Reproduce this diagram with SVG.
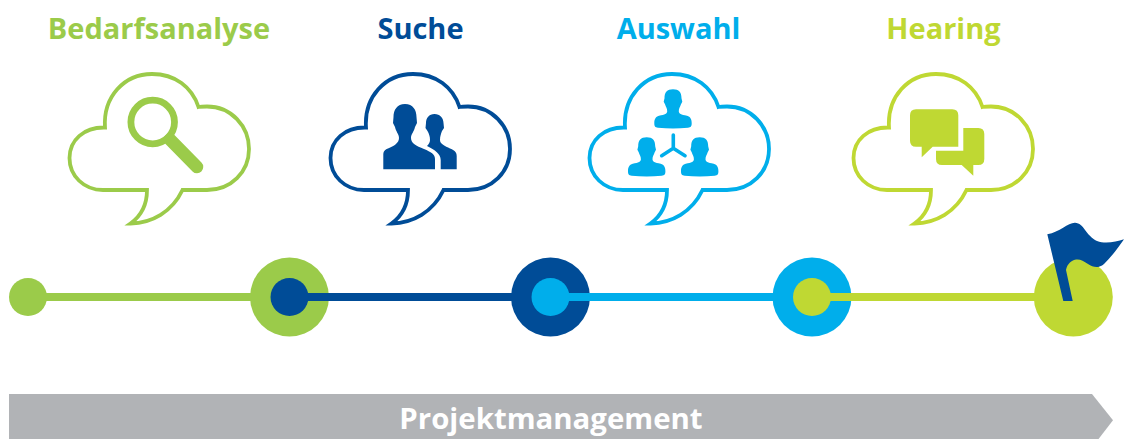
<svg xmlns="http://www.w3.org/2000/svg" width="1124" height="439" viewBox="0 0 1124 439">
<style>
.h{font-family:"Open Sans","Noto Sans","Liberation Sans",sans-serif;font-weight:700;font-size:29px;text-anchor:middle}
.c{fill:#fff;stroke-width:3.8;stroke-miterlimit:10}
.l{stroke-width:8;fill:none}
.g{fill:#9BCB4A}.n{fill:#004C97}.b{fill:#00AEEB}.y{fill:#BFD833}
</style>
<defs>
<path id="cloud" d="M130.500 223.500C141 216 147 205 147 190H103C84 190 69.500 176 69.500 158C69.500 140 84 127 105 127.500C103 97 124 74 152 74C175 74 192 87 198.500 107C201 106.500 204 106.500 207 106.500C231 106.500 249 126 249 149C249 172 231 190 207 190H182.500C172 212 152 223 130.500 223.500Z"/>
<path id="p" d="M0 0C-6 0-8.500 3-8.500 9L-9.300 12.500L-8 15C-7 18-5.800 19-5.800 22C-5.800 24.500-8 25.500-14 26.500C-17.500 27.500-18.700 30-18.700 34C-18.700 37-18 38-15 38.500C-5 39.500 5 39.500 15 38.500C18 38 18.700 37 18.700 34C18.700 30 17.500 27.500 14 26.500C8 25.500 5.800 24.500 5.800 22C5.800 19 7 18 8 15L9.300 12.500L8.500 9C8.500 3 6 0 0 0Z"/>
</defs>
<g id="stations">
<circle class="g" cx="28" cy="297" r="19"/>
<circle class="g" cx="289.500" cy="297" r="39.500"/>
<circle class="n" cx="550.500" cy="297" r="39.500"/>
<circle class="b" cx="812" cy="297" r="39.500"/>
<circle class="y" cx="1073.300" cy="297" r="39.500"/>
</g>
<g id="connectors">
<line class="l" x1="28" y1="297" x2="252" y2="297" stroke="#9BCB4A"/>
<line class="l" x1="289" y1="297" x2="550" y2="297" stroke="#004C97"/>
<line class="l" x1="550" y1="297" x2="812" y2="297" stroke="#00AEEB"/>
<line class="l" x1="812" y1="297" x2="1040" y2="297" stroke="#BFD833"/>
</g>
<g id="stations-inner">
<circle class="n" cx="289.500" cy="297" r="19"/>
<circle class="b" cx="550.500" cy="297" r="19"/>
<circle class="y" cx="812" cy="297" r="19"/>
</g>
<g id="bedarfsanalyse">
<text class="h g" x="159" y="39">Bedarfsanalyse</text>
<use href="#cloud" class="c" stroke="#9BCB4A"/>
<circle cx="152.700" cy="122" r="21.800" fill="none" stroke="#9BCB4A" stroke-width="6.800"/>
<line x1="170" y1="139.500" x2="197" y2="167" stroke="#9BCB4A" stroke-width="12.500" stroke-linecap="round"/>
</g>
<g id="suche">
<text class="h n" x="420.500" y="39">Suche</text>
<use href="#cloud" class="c" stroke="#004C97" x="261"/>
<path class="n" d="M405 104C397 104 393.500 110 393.500 117L393 123L395 127C396 132 399 134 399 138C399 143 394 146 388 148.500C384 150 383.300 152 383.300 155V169.300H435V159C435 154 431 152 424 149C416 146 411 143 411 138C411 134 414 132 415 127L417 123L416.500 117C416.500 110 413 104 405 104Z"/>
<path class="n" d="M434.500 114C429 114 426 118 426 123L425.500 128L427.500 131C429 134 430 136 430 140C430 142 429 144 427 146C435 150 440.700 154 440.700 160V169.300H456.700V156C456.700 152 454 150 450 148.500C445 146 440 144 440 140C440 136 441 134 442 131L444 128L443.500 123C443.500 118 440 114 434.500 114Z"/>
</g>
<g id="auswahl">
<text class="h b" x="678.500" y="39">Auswahl</text>
<use href="#cloud" class="c" stroke="#00AEEB" x="520"/>
<use href="#p" class="b" x="673" y="89.300"/>
<use href="#p" class="b" x="646.700" y="137.300"/>
<use href="#p" class="b" x="699.700" y="137.300"/>
<path d="M673.300 135V148.300M661.700 155.700L673.300 148.300L685 155.700" fill="none" stroke="#00AEEB" stroke-width="3.600" stroke-linecap="round" stroke-linejoin="round"/>
</g>
<g id="hearing">
<text class="h y" x="943.500" y="39">Hearing</text>
<use href="#cloud" class="c" stroke="#BFD833" x="784"/>
<path class="y" d="M916 109.300H952.300Q958.300 109.300 958.300 115.300V146.700H932.700L921.700 157.300V146.700H916Q910 146.700 910 140.700V115.300Q910 109.300 916 109.300Z"/>
<path class="y" d="M963.300 128H978.300Q984.300 128 984.300 134V159Q984.300 165 978.300 165H973.300V175.700L961.700 165H942Q936 165 936 159V150.700H963.300Z"/>
</g>
<g id="ziel">
<path class="n" d="M1047.300 234.300C1060 232 1068 222.500 1075 222.700C1084 223 1086 236 1097 241C1106 244.500 1116 241.500 1124 239.300C1118 248 1112 256 1104 264C1098 269 1093 267 1088 264C1082 260 1078 258 1072 261C1069 263 1067 265 1066 270L1072.700 301H1063.300Z"/>
</g>
<g id="projektmanagement">
<polygon points="9,394 1092,394 1113,420.300 1097,441 9,441" fill="#B1B3B6"/>
<text x="551" y="429" font-family="'Open Sans','Noto Sans','Liberation Sans',sans-serif" font-weight="700" font-size="29.400" text-anchor="middle" fill="#fff">Projektmanagement</text>
</g>
</svg>
